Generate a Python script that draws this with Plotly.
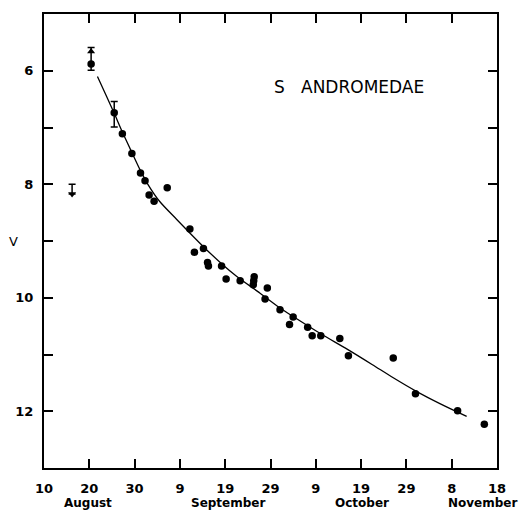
import plotly.graph_objects as go

# x = days after 10 August (1885); y = V magnitude
obs_day = [10.4, 15.5, 17.3, 19.4, 21.3, 22.3, 23.2, 24.3, 27.2, 32.2, 33.2, 35.2, 36.1, 36.3,
           39.2, 40.2, 43.3, 46.4, 46.3, 46.2, 48.8, 49.3, 52.1, 54.2, 55.0, 58.2, 59.2, 61.1,
           65.3, 67.2, 77.1, 82.0, 91.3, 97.2]
obs_mag = [5.88, 6.74, 7.11, 7.46, 7.80, 7.94, 8.19, 8.30, 8.06, 8.79, 9.20, 9.13, 9.38, 9.44,
           9.44, 9.67, 9.70, 9.63, 9.70, 9.77, 10.02, 9.83, 10.21, 10.47, 10.34, 10.52, 10.67, 10.67,
           10.72, 11.02, 11.06, 11.69, 11.99, 12.23]

err_day = [10.4, 15.5]
err_mag = [5.88, 6.74]
err_fainter = [0.11, 0.25]
err_brighter = [0.29, 0.20]

arrow_up_day = [10.4]
arrow_up_mag = [5.66]

lim_day = [6.2]
lim_mag = [8.0]
lim_len = [0.17]
lim_tip_mag = [8.17]

fit_day = [11.8, 13.8, 15.5, 17.3, 19.4, 21.3, 23.0, 25.5, 29.3, 35.2, 39.2, 42.5, 47.7, 52.1,
           55.0, 61.0, 67.0, 72.5, 77.1, 82.0, 87.5, 93.3]
fit_mag = [6.10, 6.45, 6.75, 7.08, 7.44, 7.76, 8.01, 8.30, 8.62, 9.10, 9.40, 9.62, 9.92, 10.18,
           10.33, 10.63, 10.91, 11.18, 11.41, 11.64, 11.87, 12.09]

x_tickvals = [0, 10, 20, 30, 40, 50, 60, 70, 80, 90, 100]
x_ticktext = ["10", "20", "30", "9", "19", "29", "9", "19", "29", "8", "18"]
y_tickvals = [6, 7, 8, 9, 10, 11, 12]
y_ticktext = ["6", "", "8", "", "10", "", "12"]

months = ["August", "September", "October", "November"]
month_day = [9.7, 40.6, 70.2, 96.9]

FONT = "DejaVu Sans"

fig = go.Figure()

fig.add_trace(go.Scatter(x=fit_day, y=fit_mag, mode="lines",
                         line=dict(color="black", width=1.3, shape="spline", smoothing=0.8),
                         hoverinfo="skip"))

fig.add_trace(go.Scatter(x=err_day, y=err_mag, mode="markers",
                         marker=dict(color="black", size=1),
                         error_y=dict(type="data", symmetric=False, array=err_fainter,
                                      arrayminus=err_brighter, color="black", thickness=1.5, width=3.5)))

fig.add_trace(go.Scatter(x=lim_day, y=lim_mag, mode="markers",
                         marker=dict(color="black", size=1),
                         error_y=dict(type="data", symmetric=False, array=lim_len,
                                      arrayminus=[0], color="black", thickness=1.5, width=3.5)))

fig.add_trace(go.Scatter(x=arrow_up_day, y=arrow_up_mag, mode="markers",
                         marker=dict(color="black", size=7, symbol="triangle-up")))
fig.add_trace(go.Scatter(x=lim_day, y=lim_tip_mag, mode="markers",
                         marker=dict(color="black", size=7, symbol="triangle-down")))

fig.add_trace(go.Scatter(x=obs_day, y=obs_mag, mode="markers",
                         marker=dict(color="black", size=7.5, symbol="circle")))

fig.add_annotation(text="S   ANDROMEDAE", xref="paper", yref="paper", x=0.504, y=0.839,
                   xanchor="left", yanchor="middle", showarrow=False,
                   font=dict(family=FONT, size=17, color="black"))

fig.add_annotation(text="V", xref="paper", yref="y", x=-0.068, y=9,
                   xanchor="center", yanchor="middle", showarrow=False,
                   font=dict(family=FONT, size=13, color="black"))

for m, d in zip(months, month_day):
    fig.add_annotation(text=m, xref="x", yref="paper", x=d, y=-0.077,
                       xanchor="center", yanchor="middle", showarrow=False,
                       font=dict(family=FONT, size=12, color="black", weight="bold"))

fig.update_xaxes(range=[0, 100], tickvals=x_tickvals, ticktext=x_ticktext,
                 ticks="inside", ticklen=9, tickwidth=1.5, tickcolor="black",
                 showline=True, linecolor="black", linewidth=2, mirror="ticks",
                 showgrid=False, zeroline=False, ticklabelstandoff=7,
                 tickfont=dict(family=FONT, size=13, color="black", weight="bold"))
fig.update_yaxes(range=[13, 5], tickvals=y_tickvals, ticktext=y_ticktext,
                 ticks="inside", ticklen=9, tickwidth=1.5, tickcolor="black",
                 showline=True, linecolor="black", linewidth=2, mirror="ticks",
                 showgrid=False, zeroline=False, ticklabelstandoff=6,
                 tickfont=dict(family=FONT, size=13, color="black", weight="bold"))

fig.update_layout(width=520, height=510, margin=dict(l=44, r=23, t=14, b=42),
                  paper_bgcolor="white", plot_bgcolor="white", showlegend=False)

fig.write_html("out.html", config={"displayModeBar": False},
               post_script="document.body.style.margin='0';document.body.style.overflow='hidden';")
